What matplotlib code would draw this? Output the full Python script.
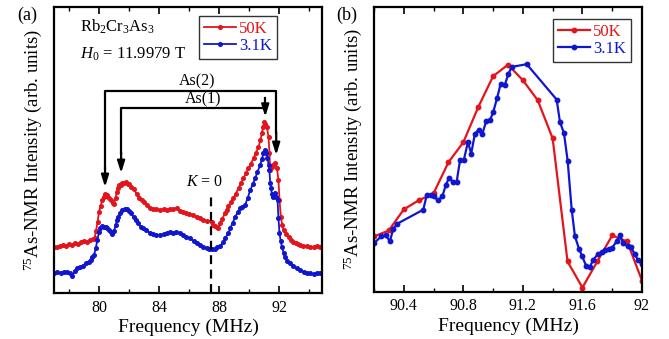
import matplotlib
matplotlib.use("Agg")
import matplotlib.pyplot as plt
from matplotlib.ticker import MultipleLocator, NullLocator

plt.rcParams['font.family'] = ['Liberation Serif', 'DejaVu Serif']
plt.rcParams['mathtext.fontset'] = 'custom'
plt.rcParams['mathtext.rm'] = 'Liberation Serif'
plt.rcParams['mathtext.it'] = 'Liberation Serif:italic'

RED = '#e3141c'
BLUE = '#1016d0'

# ---------------- panel (a) data ----------------
freq_a_50K = [77.0, 77.2, 77.4, 77.6, 77.8, 78.0, 78.2, 78.4, 78.6, 78.8, 79.0, 79.2, 79.4, 79.6, 79.7,
              79.8, 79.9, 80.0, 80.1, 80.22, 80.3, 80.38, 80.45, 80.55, 80.65, 80.78, 80.9, 81.0, 81.1,
              81.18, 81.25, 81.33, 81.45, 81.55, 81.67, 81.8, 81.9, 82.0, 82.15, 82.33, 82.5, 82.67,
              82.85, 83.0, 83.2, 83.4, 83.6, 83.8, 84.07, 84.3, 84.5, 84.7, 84.95, 85.2, 85.4, 85.62,
              85.8, 86.0, 86.29, 86.5, 86.7, 86.95, 87.2, 87.51, 87.6, 87.73, 87.85, 87.95, 88.07, 88.2,
              88.4, 88.5, 88.62, 88.8, 88.95, 89.1, 89.29, 89.45, 89.62, 89.8, 89.95, 90.1, 90.29, 90.45,
              90.62, 90.75, 90.85, 90.93, 91.0, 91.08, 91.18, 91.29, 91.35, 91.4, 91.5, 91.62, 91.73,
              91.85, 91.95, 92.02, 92.11, 92.2, 92.29, 92.45, 92.62, 92.8, 92.95, 93.1, 93.25, 93.4,
              93.6, 93.85, 94.05, 94.29, 94.5, 94.7, 94.85]
int_a_50K = [45.7, 46, 47, 48, 47, 49, 48, 50, 49, 51, 52, 51, 53, 54, 55,
             62, 71, 81, 87, 93, 96, 99, 97, 98, 95, 93, 90, 89, 95,
             101, 105, 108, 108, 110, 110, 111, 109, 109, 106, 104, 99, 95,
             93, 91, 88, 85, 84, 84, 83, 84, 83, 84, 84, 85, 82, 81,
             80, 79, 78, 76, 75, 73, 72, 71, 68, 67, 66, 65, 70, 74,
             80, 83, 87, 91, 95, 99, 105, 110, 115, 120, 125, 129, 135, 140,
             146, 153, 160, 166, 171, 169, 166, 156, 140, 123, 126, 128, 130,
             125, 113, 93, 76, 68, 63, 59, 56, 53, 51, 50, 49, 48,
             47, 47, 46, 46, 47, 46, 47]

freq_a_3K = [77.0, 77.2, 77.45, 77.65, 77.89, 78.05, 78.22, 78.4, 78.55, 78.75, 78.9, 79.11, 79.3, 79.45,
             79.55, 79.67, 79.78, 79.89, 80.0, 80.07, 80.22, 80.35, 80.45, 80.55, 80.67, 80.78, 80.89,
             81.0, 81.11, 81.2, 81.27, 81.4, 81.55, 81.7, 81.85, 82.0, 82.11, 82.3, 82.45, 82.6, 82.78,
             82.9, 83.1, 83.4, 83.6, 83.8, 84.07, 84.3, 84.5, 84.73, 84.9, 85.1, 85.4, 85.6, 85.8,
             86.07, 86.3, 86.5, 86.73, 86.95, 87.18, 87.35, 87.51, 87.7, 87.85, 88.07, 88.29, 88.4,
             88.62, 88.73, 88.9, 89.07, 89.25, 89.4, 89.55, 89.73, 89.9, 90.07, 90.25, 90.4, 90.55,
             90.73, 90.85, 90.95, 91.07, 91.15, 91.22, 91.3, 91.35, 91.4, 91.45, 91.52, 91.58, 91.65,
             91.73, 91.8, 91.89, 91.95, 92.02, 92.1, 92.18, 92.3, 92.4, 92.55, 92.73, 92.95, 93.18,
             93.4, 93.62, 93.85, 94.07, 94.3, 94.51, 94.7, 94.85]
int_a_3K = [20.3, 21, 20.3, 21, 21.3, 20, 17, 22, 24.7, 26, 27, 29.7, 31, 33,
            36, 38, 44.7, 53, 61, 64.7, 67, 66, 66.3, 65, 63, 61, 59,
            62, 68, 73, 76.3, 80, 83, 84, 83.7, 82, 79.7, 76, 73, 70, 66.3,
            64.7, 63, 60.3, 59, 58, 58, 59, 60, 61.3, 60, 61, 60.3, 58, 56,
            54.7, 52, 50, 48, 46, 44.7, 44, 43.7, 44.5, 45.7, 47, 51.3, 55,
            59.7, 64.7, 70, 76.3, 81, 84.7, 86, 88, 95, 103, 109, 114.7, 121,
            128, 134, 139.7, 143, 140, 134.7, 128, 123, 110, 104.7, 99, 96.3, 97,
            99.7, 96, 93, 75, 60, 52, 46.3, 40, 36.3, 32, 29.7, 27, 24.7,
            23, 21.3, 20.5, 19.7, 19, 19.7, 20.5, 20.3]

# ---------------- panel (b) data ----------------
freq_b_50K = [90.2, 90.3, 90.4, 90.5, 90.6, 90.7, 90.8, 90.9, 91.0, 91.1,
              91.2, 91.3, 91.4, 91.5, 91.6, 91.7, 91.8, 91.9, 92.0]
int_b_50K = [55, 61, 82, 91, 98, 129, 149, 184, 215, 226.5,
             211, 191, 153, 30, 4, 30, 56, 50, 11]

freq_b_3K = [90.2, 90.249, 90.279, 90.307, 90.33, 90.356, 90.531, 90.554, 90.581, 90.603, 90.63,
             90.659, 90.682, 90.704, 90.731, 90.755, 90.778, 90.804, 90.831, 90.853, 90.878, 90.905,
             90.927, 90.954, 90.979, 91.001, 91.028, 91.051, 91.078, 91.102, 91.125, 91.226, 91.427,
             91.449, 91.476, 91.501, 91.528, 91.55, 91.577, 91.599, 91.624, 91.651, 91.673, 91.702,
             91.729, 91.751, 91.778, 91.8, 91.83, 91.852, 91.874, 91.904, 91.926, 91.953, 91.975, 92.0]
int_b_3K = [48.3, 55, 56, 50.3, 62.7, 67.7, 81.7, 96, 96.7, 95, 91,
            95, 106, 113.7, 109.3, 109.3, 131, 131.7, 149.3, 137.7, 157.7, 161.7,
            157, 170.3, 171, 179.3, 193.7, 207.7, 206, 217, 224.3, 227, 191.7,
            169.3, 158.3, 130.3, 81.7, 55, 42.7, 35, 26, 25, 31.7, 37,
            39.3, 41.7, 42.7, 43.7, 50.3, 56, 48.3, 45, 44.3, 37, 31, 27]

labels = ['50K', '3.1K']

fig = plt.figure(figsize=(6.69, 3.39), dpi=100)
axa = fig.add_axes([0.0807, 0.1357, 0.4006, 0.8433])
axb = fig.add_axes([0.559, 0.140, 0.4006, 0.839])


def style(ax, major, minor):
    ax.xaxis.set_major_locator(MultipleLocator(major))
    ax.xaxis.set_minor_locator(MultipleLocator(minor))
    ax.yaxis.set_major_locator(NullLocator())
    ax.yaxis.set_minor_locator(NullLocator())
    ax.tick_params(axis='x', which='both', direction='in', top=True, labelsize=11.5, pad=5)
    ax.tick_params(axis='x', which='major', length=5, width=1.2)
    ax.tick_params(axis='x', which='minor', length=3, width=1.0)
    for s in ax.spines.values():
        s.set_linewidth(1.6)
    ax.set_xlabel('Frequency (MHz)', fontsize=14, labelpad=2)
    ax.set_ylabel('$^{75}$As-NMR Intensity (arb. units)', fontsize=13.5, labelpad=7)


ARROW = dict(arrowstyle='-|>,head_length=0.7,head_width=0.22', color='black', lw=1.6,
             shrinkA=0, shrinkB=0)

# panel (a)
axa.plot(freq_a_50K, int_a_50K, '-o', color=RED, lw=1.3, ms=2.6, label=labels[0])
axa.plot(freq_a_3K, int_a_3K, '-o', color=BLUE, lw=1.3, ms=2.6, label=labels[1])
axa.set_xlim(77, 94.85)
axa.set_ylim(0, 286)
style(axa, 4, 2)

axa.text(78.73, 266, 'Rb$_2$Cr$_3$As$_3$', fontsize=12, va='center', ha='left')
axa.text(78.73, 239, '$H_0$ = 11.9979 T', fontsize=12, va='center', ha='left')

# As(2) bracket
axa.plot([80.4, 80.4, 91.8, 91.8], [125, 202.3, 202.3, 160], color='black', lw=1.6)
axa.annotate('', xy=(80.4, 106), xytext=(80.4, 126), arrowprops=ARROW)
axa.annotate('', xy=(91.8, 138), xytext=(91.8, 161), arrowprops=ARROW)
axa.text(86.55, 211.5, 'As(2)', fontsize=11.5, ha='center', va='center')
# As(1) bracket
axa.plot([81.47, 81.47, 91.07, 91.07], [140, 185, 185, 195], color='black', lw=1.6)
axa.annotate('', xy=(81.47, 120), xytext=(81.47, 141), arrowprops=ARROW)
axa.annotate('', xy=(91.07, 176.3), xytext=(91.07, 186), arrowprops=ARROW)
axa.text(86.9, 193.5, 'As(1)', fontsize=11.5, ha='center', va='center')

# K = 0 line
axa.plot([87.47, 87.47], [0, 98], color='black', lw=1.6, ls=(0, (4, 2.5)))
axa.text(87.0, 110.7, '$K$ = 0', fontsize=11.5, ha='center', va='center')

leg = axa.legend(loc='upper right', bbox_to_anchor=(0.832, 0.969), borderaxespad=0,
                 fontsize=12, frameon=True, fancybox=False, handlelength=1.9,
                 handletextpad=0.2, borderpad=0.3, labelspacing=0.05)
leg.get_frame().set_edgecolor('black')
leg.get_frame().set_linewidth(1.0)
for t, c in zip(leg.get_texts(), [RED, BLUE]):
    t.set_color(c)

# panel (b)
axb.plot(freq_b_50K, int_b_50K, '-o', color=RED, lw=1.6, ms=3.2, label=labels[0])
axb.plot(freq_b_3K, int_b_3K, '-o', color=BLUE, lw=1.6, ms=3.2, label=labels[1])
axb.set_xlim(90.2, 92)
axb.set_ylim(0, 284)
style(axb, 0.4, 0.2)
axb.set_xticks([90.4, 90.8, 91.2, 91.6, 92.0])
axb.set_xticklabels(['90.4', '90.8', '91.2', '91.6', '92'])

legb = axb.legend(loc='upper right', bbox_to_anchor=(0.959, 0.958), borderaxespad=0,
                  fontsize=12, frameon=True, fancybox=False, handlelength=1.9,
                  handletextpad=0.2, borderpad=0.3, labelspacing=0.05)
legb.get_frame().set_edgecolor('black')
legb.get_frame().set_linewidth(1.0)
for t, c in zip(legb.get_texts(), [RED, BLUE]):
    t.set_color(c)

fig.text(27 / 669, 1 - 15 / 339, '(a)', fontsize=13, ha='center', va='center')
fig.text(347 / 669, 1 - 15 / 339, '(b)', fontsize=13, ha='center', va='center')

fig.savefig('out.png', dpi=100)
